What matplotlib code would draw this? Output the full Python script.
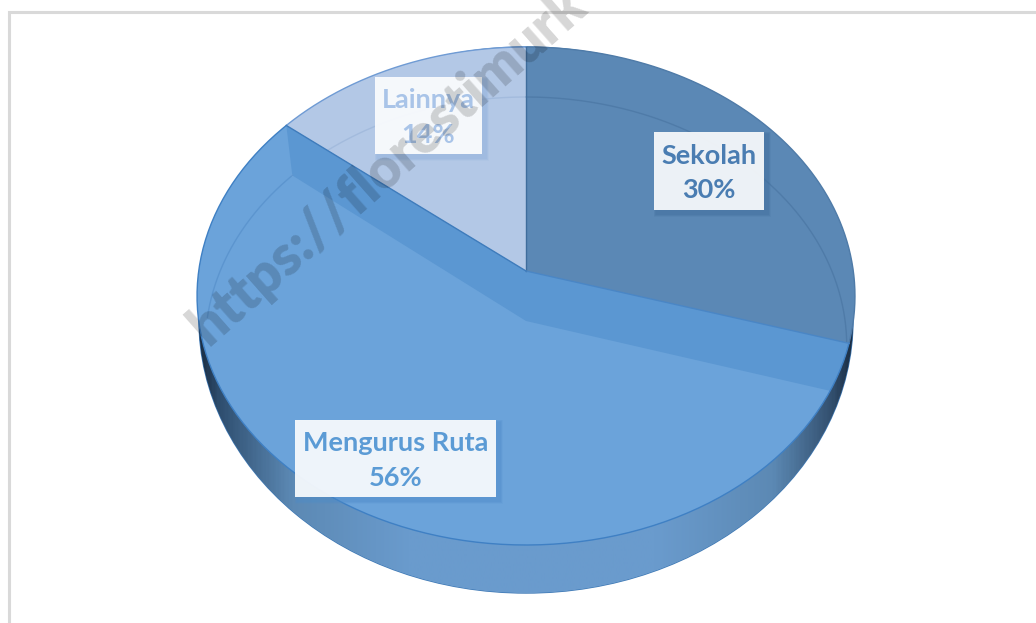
import numpy as np
import matplotlib
matplotlib.use('Agg')
import matplotlib.pyplot as plt
from matplotlib.patches import Polygon, Ellipse, Rectangle
from matplotlib.colors import LinearSegmentedColormap

# datos del grafico (en orden, desde arriba y en sentido horario)
categorias = ['Sekolah', 'Mengurus Ruta', 'Lainnya']
valores = [29.6, 56.2, 14.2]

plt.rcParams['font.family'] = ['Lato', 'DejaVu Sans']

fig = plt.figure(figsize=(10.36, 6.23), dpi=100)
ax = fig.add_axes([0, 0, 1, 1])
ax.set_xlim(0, 1036)
ax.set_ylim(623, 0)
ax.axis('off')

# perspectiva del pastel: centro del pastel y deformacion
cx, cy = 526, 271
k = 0.1004
ax_x = 327.3
ax_y = 246.5


def punto(ang, dy=0, esc=1.0):
    # angulo en grados (matematico) a coordenadas de la imagen
    ang = np.radians(ang)
    u = np.cos(ang)
    v = np.sin(ang)
    d = 1 + k * v
    return np.column_stack([cx + esc * ax_x * u / d, cy + dy - ax_y * v / d])


total = sum(valores)
angs = 360 * np.cumsum([0] + valores) / total
ini = 90 - angs[:-1]
fin = 90 - angs[1:]


def sector(a, b, dy=0, esc=1.0):
    arco = punto(np.linspace(a, b, 200), dy, esc)
    return np.vstack([[cx, cy + dy], arco])


# borde exterior con degradado
base = Ellipse((526, 320), 654, 546, fc='none', ec='#3d78b5', lw=1, zorder=1)
ax.add_patch(base)
cmap = LinearSegmentedColormap.from_list('lado', [
    (0.0, '#1b2f46'), (0.03, '#2f4f70'), (0.14, '#5c89b4'), (0.32, '#6a9bcd'),
    (0.70, '#6a9bcd'), (0.88, '#5c89b4'), (0.97, '#33506f'), (1.0, '#1b2f46')])
grad = ax.imshow(np.linspace(0, 1, 400).reshape(1, -1), extent=[199, 853, 593, 47],
                 cmap=cmap, aspect='auto', zorder=1)
grad.set_clip_path(base)
ax.set_xlim(0, 1036)
ax.set_ylim(623, 0)

# superficie superior
colores = ['#5b88b5', '#6ba3da', '#b3c8e6']
bordes = ['#4f7ba8', '#3f80c4', '#6f9bd4']
for i in [2, 0, 1]:
    ax.add_patch(Polygon(sector(ini[i], fin[i]), closed=True, fc=colores[i], ec='none', zorder=2))

# cara interna mas oscura de la porcion separada
rim = ax.add_patch(Polygon(punto(np.linspace(0, 360, 500)), closed=True, fc='none', ec='none', zorder=2))
p1 = punto(ini[1])[0]
p2 = punto(fin[1])[0]
q1 = punto(ini[1], 50, 0.975)[0]
q2 = punto(fin[1], 50, 0.975)[0]
banda = Polygon([[cx, cy], p1, q1, [cx, cy + 50], q2, p2], closed=True,
                fc='#5b97d2', ec='none', zorder=3)
ax.add_patch(banda)
banda.set_clip_path(rim)

# arcos interiores tenues (los de atras quedan debajo de la banda)
tramos = [(ini[0], fin[0], '#4f7ba8', 2.5), (ini[2], fin[2], '#a3bbdd', 2.5), (fin[1] + 38, fin[1], '#5c95cf', 4)]
for a, b, col, z in tramos:
    arco = punto(np.linspace(a, b, 200), 50, 0.975)
    lin, = ax.plot(arco[:, 0], arco[:, 1], color=col, lw=1, zorder=z)
    lin.set_clip_path(rim)

# lineas de las porciones
for i in range(3):
    arco = punto(np.linspace(ini[i], fin[i], 200))
    ax.plot(arco[:, 0], arco[:, 1], color=bordes[i], lw=1, zorder=5)
ax.plot([cx, cx], [cy, punto(90)[0, 1]], color='#3f6d9c', lw=1, zorder=5)
ax.plot([cx, p1[0]], [cy, p1[1]], color='#4a86c5', lw=1, zorder=5)
ax.plot([cx, p2[0]], [cy, p2[1]], color='#3f7cbc', lw=1, zorder=5)

# etiquetas
cajas = [(654, 132, 110, 78), (295, 420, 201, 77), (375, 77, 107, 77)]
col_texto = ['#4a7db2', '#5b9bd5', '#a9c4e8']
col_sombra = ['#3f6d9c', '#4f8ccb', '#8fb0dc']
for i in range(3):
    x, y, w, h = cajas[i]
    for s in range(1, 6):
        ax.add_patch(Rectangle((x - 1 + s * 0.5, y - 1 + s * 0.5), w + 2 + 6 - s, h + 2 + 6 - s,
                               fc=col_sombra[i], ec='none', alpha=0.12, zorder=6))
    ax.add_patch(Rectangle((x, y), w, h, fc='#ffffff', ec='none', alpha=0.9, zorder=7))
    etiqueta = '%s\n%d%%' % (categorias[i], round(valores[i]))
    ax.text(x + w / 2, y + h / 2 + 2, etiqueta, color=col_texto[i], fontsize=19.5, fontweight='bold',
            ha='center', va='center', linespacing=1.55, zorder=8)

# marca de agua
ax.text(197, 335, 'https://florestimurk', color='#000000', alpha=0.16, fontsize=40,
        fontweight='heavy', rotation=41.5, rotation_mode='anchor', ha='left', va='center',
        family=['Lato', 'DejaVu Sans'], zorder=9)

# marco de la imagen
ax.plot([8.5, 8.5, 1036], [623, 12, 12], color='#d9d9d9', lw=2.2, solid_joinstyle='miter', zorder=0)

fig.savefig('out.png', dpi=100)
